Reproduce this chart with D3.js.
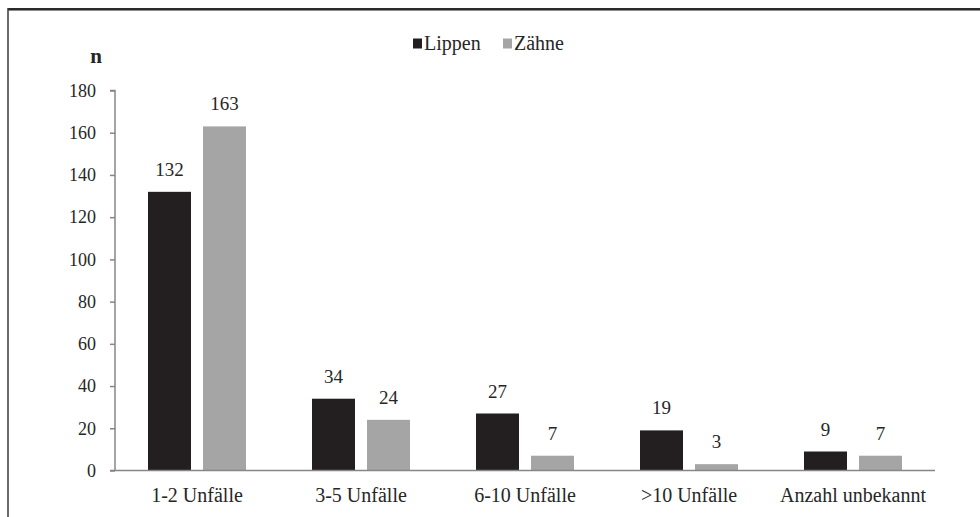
<!DOCTYPE html>
<html>
<head>
<meta charset="utf-8">
<script src="https://cdn.jsdelivr.net/npm/d3@7"></script>
<style>
  html, body { margin: 0; padding: 0; background: #fff; }
  svg { display: block; }
</style>
</head>
<body>
<svg id="chart" width="980" height="517"></svg>
<script>
// Unfallhäufigkeit: Verletzungen der Lippen und Zähne
const categories = ["1-2 Unfälle", "3-5 Unfälle", "6-10 Unfälle", ">10 Unfälle", "Anzahl unbekannt"];
const seriesNames = ["Lippen", "Zähne"];
const lippen = [132, 34, 27, 19, 9];
const zaehne = [163, 24, 7, 3, 7];
const yTicks = [0, 20, 40, 60, 80, 100, 120, 140, 160, 180];

const seriesValues = [lippen, zaehne];
const colors = { "Lippen": "#231f20", "Zähne": "#a5a5a5" };
const FONT = "'Liberation Serif'";
const TEXT_COLOR = "#262626";

const svg = d3.select("#chart");
const W = 980, H = 517;
const plotLeft = 115, plotRight = 935, plotTop = 90.5, plotBottom = 470.5;

// Rahmen (oben und links)
svg.append("line").attr("x1", 8).attr("x2", W).attr("y1", 9).attr("y2", 9)
  .attr("stroke", "#2a2a2a").attr("stroke-width", 2);
svg.append("line").attr("x1", 8).attr("x2", W).attr("y1", 10.5).attr("y2", 10.5)
  .attr("stroke", "#8a8a8a").attr("stroke-width", 1);
svg.append("line").attr("x1", 8).attr("x2", 8).attr("y1", 8).attr("y2", H)
  .attr("stroke", "#3a3a3a").attr("stroke-width", 1.5);

const x0 = d3.scaleBand().domain(categories).range([plotLeft, plotRight])
  .paddingInner(0.4024).paddingOuter(0.2012);
const x1 = d3.scaleBand().domain(seriesNames).range([0, x0.bandwidth()])
  .paddingInner(12 / 55).paddingOuter(0);
const y = d3.scaleLinear().domain([0, 180]).range([plotBottom, plotTop]);

// Balken
const groups = svg.append("g").selectAll("g")
  .data(categories)
  .join("g")
  .attr("transform", d => `translate(${x0(d)},0)`);

groups.selectAll("rect")
  .data((c, i) => seriesNames.map((s, k) => ({ s, v: seriesValues[k][i] })))
  .join("rect")
  .attr("x", d => x1(d.s))
  .attr("y", d => y(d.v))
  .attr("width", x1.bandwidth())
  .attr("height", d => y(0) - y(d.v))
  .attr("fill", d => colors[d.s]);

groups.selectAll("text.val")
  .data((c, i) => seriesNames.map((s, k) => ({ s, v: seriesValues[k][i] })))
  .join("text")
  .attr("class", "val")
  .attr("x", d => x1(d.s) + x1.bandwidth() / 2)
  .attr("y", d => y(d.v) - 16)
  .attr("text-anchor", "middle")
  .style("font-family", FONT)
  .style("font-size", "19px")
  .style("fill", TEXT_COLOR)
  .text(d => d.v);

// y-Achse
const yAxis = svg.append("g")
  .attr("transform", `translate(${plotLeft},0)`)
  .call(d3.axisLeft(y).tickValues(yTicks).tickSize(5).tickPadding(14));
yAxis.attr("font-family", null).attr("font-size", null);
yAxis.select(".domain").attr("stroke", "#868686").attr("stroke-width", 1.5)
  .attr("d", `M-5,${plotTop}H0V${plotBottom}`);
yAxis.selectAll(".tick line").attr("stroke", "#868686").attr("stroke-width", 1.5);
yAxis.selectAll(".tick text")
  .style("font-family", FONT)
  .style("font-size", "18px").style("fill", TEXT_COLOR);

// x-Achse (Grundlinie)
svg.append("line").attr("x1", plotLeft - 5).attr("x2", plotRight)
  .attr("y1", plotBottom).attr("y2", plotBottom)
  .attr("stroke", "#868686").attr("stroke-width", 1.5);

const xAxis = svg.append("g")
  .attr("transform", `translate(0,${plotBottom})`)
  .call(d3.axisBottom(x0).tickSize(0).tickPadding(0));
xAxis.attr("font-family", null).attr("font-size", null);
xAxis.select(".domain").remove();
xAxis.selectAll(".tick text")
  .attr("dy", null).attr("y", 31.5)
  .style("font-family", FONT)
  .style("font-size", "20px").style("fill", TEXT_COLOR);

// Achsentitel
svg.append("text").attr("x", 96).attr("y", 63).attr("text-anchor", "middle")
  .style("font-family", FONT).style("fill", TEXT_COLOR)
  .style("font-size", "21px").style("font-weight", "bold").text("n");

// Legende
const legendPos = [{ s: "Lippen", x: 413 }, { s: "Zähne", x: 503 }];
const legend = svg.append("g").selectAll("g").data(legendPos).join("g");
legend.append("rect").attr("x", d => d.x).attr("y", 38.5).attr("width", 9).attr("height", 10)
  .attr("fill", d => colors[d.s]);
legend.append("text").attr("x", d => d.x + 11).attr("y", 50)
  .style("font-family", FONT).style("fill", TEXT_COLOR)
  .style("font-size", "20px").text(d => d.s);
</script>
</body>
</html>
